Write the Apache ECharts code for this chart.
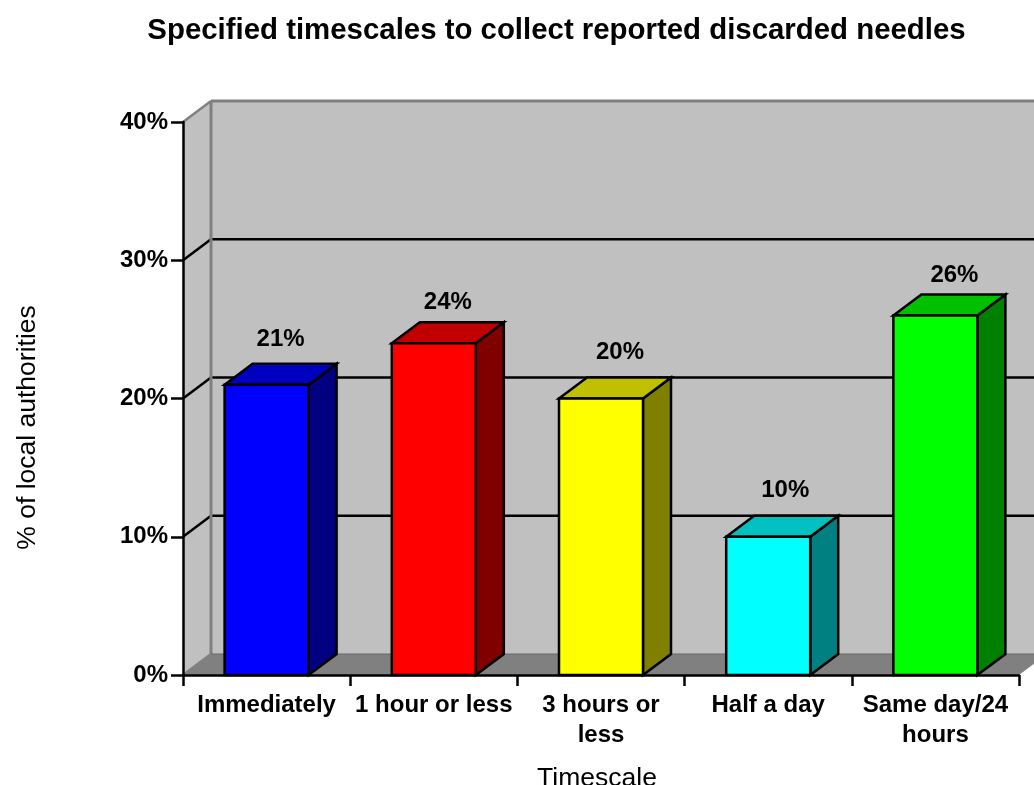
<!DOCTYPE html>
<html>
<head>
<meta charset="utf-8">
<style>html,body{margin:0;padding:0;background:#fff}#c{width:1034px;height:785px}</style>
<script src="https://cdn.jsdelivr.net/npm/echarts@6/dist/echarts.min.js"></script>
</head>
<body>
<div id="c"></div>
<script>
const categories = ['Immediately', '1 hour or less', '3 hours or\nless', 'Half a day', 'Same day/24\nhours'];
const values = [21, 24, 20, 10, 26];
const frontColors = ['#0000FF', '#FF0000', '#FFFF00', '#00FFFF', '#00FF00'];
const topColors = ['#0000C0', '#C00000', '#C0C000', '#00C0C0', '#00C000'];
const sideColors = ['#000080', '#800000', '#808000', '#008080', '#008000'];
const gridTicks = [10, 20, 30];
const DX = 28, DY = 21, BAR_W = 84;
const LABEL_NUDGE_X = [0, 0, 5, 3, 5];
const LABEL_NUDGE_Y = [2, 6, 1, 1, 7];
const FONT = '"Liberation Sans", Arial, sans-serif';

function poly(points, fill, stroke, lw) {
  return {type: 'polygon', shape: {points}, style: {fill, stroke: stroke || 'none', lineWidth: lw || 0, lineJoin: 'miter'}};
}
function line(x1, y1, x2, y2, stroke, lw) {
  return {type: 'line', shape: {x1, y1, x2, y2}, style: {stroke, lineWidth: lw}};
}
function renderWalls(params, api) {
  const cs = params.coordSys;
  const L = cs.x, R = cs.x + cs.width;
  const y0 = api.coord([0, 0])[1], yTop = api.coord([0, 40])[1];
  const children = [
    poly([[L + DX, yTop - DY], [R + DX + 40, yTop - DY], [R + DX + 40, y0 - DY], [L + DX, y0 - DY]], '#C0C0C0'),
    poly([[L, yTop], [L + DX, yTop - DY], [L + DX, y0 - DY], [L, y0]], '#C0C0C0'),
    poly([[L, y0], [L + DX, y0 - DY], [R + DX, y0 - DY], [R, y0]], '#808080')
  ];
  gridTicks.forEach(v => {
    const y = api.coord([0, v])[1];
    children.push(line(L, y, L + DX, y - DY, '#000', 2.5));
    children.push(line(L + DX, y - DY, R + DX + 40, y - DY, '#000', 2.5));
  });
  children.push(line(L + DX, yTop - DY, R + DX + 40, yTop - DY, '#808080', 3));
  children.push(line(L + DX, yTop - DY, L + DX, y0 - DY, '#808080', 3));
  children.push(line(L, yTop, L + DX, yTop - DY, '#808080', 2.5));
  children.push(line(L + DX, y0 - DY, R + DX + 40, y0 - DY, '#696969', 1));
  children.push(line(L, y0, L + DX, y0 - DY, '#808080', 2.5));
  return {type: 'group', children};
}
function renderBar(params, api) {
  const i = api.value(0), v = api.value(1);
  const top = api.coord([i, v]), base = api.coord([i, 0]);
  const xl = top[0] - BAR_W / 2, xr = top[0] + BAR_W / 2, yt = top[1], yb = base[1];
  const k = '#000';
  return {type: 'group', children: [
    poly([[xr, yt], [xr + DX, yt - DY], [xr + DX, yb - DY], [xr, yb]], sideColors[i], k, 2.5),
    poly([[xl, yt], [xl + DX, yt - DY], [xr + DX, yt - DY], [xr, yt]], topColors[i], k, 2.5),
    poly([[xl, yt], [xr, yt], [xr, yb], [xl, yb]], frontColors[i], k, 2.5),
    {type: 'text', style: {text: v + '%', x: top[0] + DX / 2 + LABEL_NUDGE_X[i], y: yt - DY - 26 + LABEL_NUDGE_Y[i],
      align: 'center', verticalAlign: 'middle', font: 'bold 24px ' + FONT, fill: '#000'}}
  ]};
}
const chart = echarts.init(document.getElementById('c'), null, {renderer: 'canvas'});
chart.setOption({
  animation: false,
  backgroundColor: '#fff',
  title: {
    text: 'Specified timescales to collect reported discarded needles',
    left: 551.5, top: 11, textAlign: 'center',
    textStyle: {fontFamily: FONT, fontWeight: 'bold', fontSize: 29.4, color: '#000'}
  },
  grid: {left: 183, right: 15, top: 122, bottom: 110, outerBoundsMode: 'none'},
  xAxis: {
    type: 'category', data: categories, z: 5,
    name: 'Timescale', nameLocation: 'middle', nameGap: 90,
    nameTextStyle: {fontFamily: FONT, fontSize: 26.5, color: '#000', padding: [0, 8, 0, 0]},
    axisLine: {lineStyle: {color: '#000', width: 2.5}},
    axisTick: {show: true, length: 11, lineStyle: {color: '#000', width: 2.5}, alignWithLabel: false},
    axisLabel: {fontFamily: FONT, fontWeight: 'bold', fontSize: 24, color: '#000', margin: 15,
      lineHeight: 30, interval: 0}
  },
  yAxis: {
    type: 'value', min: 0, max: 40, interval: 10, z: 5,
    name: '% of local authorities', nameLocation: 'middle', nameGap: 142,
    nameTextStyle: {fontFamily: FONT, fontSize: 26.5, color: '#000', padding: [0, 58, 0, 0]},
    axisLine: {show: true, lineStyle: {color: '#000', width: 2.5}},
    axisTick: {show: true, length: 12, lineStyle: {color: '#000', width: 2.5}},
    splitLine: {show: false},
    axisLabel: {fontFamily: FONT, fontWeight: 'bold', fontSize: 24, color: '#000', margin: 15, formatter: '{value}%'}
  },
  series: [
    {type: 'custom', z: 1, silent: true, clip: false, renderItem: renderWalls, data: [[0, 0]], encode: {x: 0, y: 1}},
    {type: 'custom', z: 2, silent: true, clip: false, renderItem: renderBar,
      data: values.map((v, i) => [i, v]), encode: {x: 0, y: 1}}
  ]
});
</script>
</body>
</html>
